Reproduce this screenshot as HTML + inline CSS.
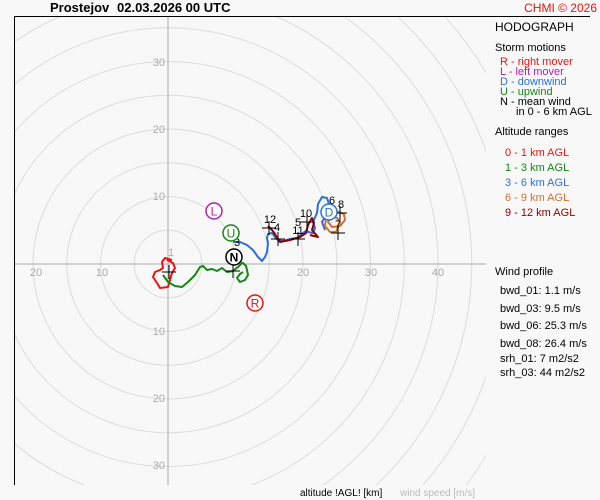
<!DOCTYPE html>
<html><head><meta charset="utf-8"><style>
html,body{margin:0;background:#f8f8f8;width:600px;height:500px;overflow:hidden;}
svg{display:block;font-family:"Liberation Sans",sans-serif;}
</style></head><body>
<svg width="600" height="500" viewBox="0 0 600 500" xmlns="http://www.w3.org/2000/svg">
<rect width="600" height="500" fill="#f8f8f8"/>
<defs><clipPath id="c"><rect x="14" y="16" width="472" height="469"/></clipPath></defs>
<g clip-path="url(#c)" fill="none" stroke="#dcdcdc" stroke-width="1">
<circle cx="168" cy="264" r="33.75"/><circle cx="168" cy="264" r="67.5"/><circle cx="168" cy="264" r="101.25"/>
<circle cx="168" cy="264" r="135"/><circle cx="168" cy="264" r="168.75"/><circle cx="168" cy="264" r="202.5"/>
<circle cx="168" cy="264" r="236.25"/><circle cx="168" cy="264" r="270"/><circle cx="168" cy="264" r="303.75"/>
<circle cx="168" cy="264" r="337.5"/><circle cx="168" cy="264" r="371.25"/><circle cx="168" cy="264" r="405"/>
<circle cx="168" cy="264" r="438.75"/><circle cx="168" cy="264" r="472.5"/>
</g>
<line x1="168" y1="16" x2="168" y2="485" stroke="#aaa"/>
<line x1="14" y1="264" x2="486" y2="264" stroke="#aaa"/>
<line x1="14.5" y1="16" x2="14.5" y2="485" stroke="#000"/>
<line x1="14" y1="16.5" x2="590" y2="16.5" stroke="#000"/>
<g font-size="11" fill="#aaa">
<text x="36" y="276" text-anchor="middle">20</text><text x="102" y="276" text-anchor="middle">10</text>
<text x="303" y="276" text-anchor="middle">20</text><text x="371" y="276" text-anchor="middle">30</text><text x="438" y="276" text-anchor="middle">40</text>
<text x="165" y="200" text-anchor="end">10</text><text x="165" y="133" text-anchor="end">20</text><text x="165" y="66" text-anchor="end">30</text>
<text x="165" y="335" text-anchor="end">10</text><text x="165" y="402" text-anchor="end">20</text><text x="165" y="469" text-anchor="end">30</text>
</g>
<g fill="none" stroke-width="2" stroke-linejoin="round">
<polyline stroke="#ee1111" points="167,260 173,263 175,268 172,273 170,280 168,287 160,288 157,283 153,277 155,272 160,270 163,268 162,262 165,258 172,260"/>
<polyline stroke="#118811" points="163,275 168,282 175,286 182,287 188,282 195,275 200,267 203,266 207,270 212,269 217,271 222,268 227,272 233,271 238,267 242,263 243,263 246,266 247,270 248,275 245,280 240,282 237,278 240,274 243,272"/>
<polyline stroke="#2a6fdd" points="233,242 240,242 247,245 253,250 258,257 262,261 265,257 267,252 268,243 267,238 268,234 272,233 275,237 278,240 283,241 290,239 297,238 303,233 307,230 308,232 313,233 315,228 313,222 317,213 318,204 322,197 327,198 330,207 327,214 322,222 325,230"/>
<polyline stroke="#8b0000" points="268,226 272,230 275,234 277,238 280,242 290,240 300,237 306,233 308,225 312,218 314,223 312,230 318,237 310,235"/>
<polyline stroke="#d07030" points="334,215 338,212 344,214 345,220 340,226 332,227 328,222 331,216 337,218 340,222 336,232 330,232 325,226 326,218"/>
</g>
<g stroke="#000" stroke-width="1">
<path d="M162,272h14M169,265v14M226,271h14M233,264v14M262,228h14M269,221v14M271,239h14M278,232v14M291,239h14M298,232v14M300,222h14M307,215v14M333,213h14M340,206v14M331,233h14M338,226v14"/>
</g>
<g font-size="11" fill="#000">
<text x="168" y="256" fill="#d99">1</text><text x="234" y="246">3</text>
<text x="270" y="223" text-anchor="middle">12</text><text x="277" y="231" text-anchor="middle">4</text>
<text x="298" y="226" text-anchor="middle">5</text><text x="298" y="234" text-anchor="middle">11</text>
<text x="306" y="217" text-anchor="middle">10</text><text x="332" y="204" text-anchor="middle">6</text>
<text x="341" y="208" text-anchor="middle">8</text><text x="338" y="228" text-anchor="middle">7</text>
</g>
<g font-size="12" text-anchor="middle" stroke-width="1.5">
<circle cx="214" cy="211" r="8" fill="#fff" stroke="#b020b0"/><text x="214" y="215.5" fill="#b020b0">L</text>
<circle cx="231" cy="233" r="8" fill="#fff" stroke="#118811"/><text x="231" y="237.5" fill="#118811">U</text>
<circle cx="234" cy="257" r="8" fill="#fff" stroke="#000"/><text x="234" y="261.5" fill="#000" font-weight="bold">N</text>
<circle cx="255" cy="303" r="8" fill="#fff" stroke="#ee1111"/><text x="255" y="307.5" fill="#ee1111">R</text>
<circle cx="329" cy="212" r="8" fill="#fff" stroke="#2a6fdd"/><text x="329" y="216.5" fill="#2a6fdd">D</text>
</g>
<text x="50" y="12" font-size="13" font-weight="bold">Prostejov</text>
<text x="117" y="12" font-size="13" font-weight="bold">02.03.2026 00 UTC</text>
<text x="597" y="12" font-size="12" fill="#ee1111" text-anchor="end">CHMI © 2026</text>
<g font-size="11">
<text x="495" y="31" font-size="12">HODOGRAPH</text>
<text x="495" y="51">Storm motions</text>
<text x="500" y="65" fill="#ee1111">R - right mover</text>
<text x="500" y="75" fill="#b020b0">L - left mover</text>
<text x="500" y="85" fill="#2a6fdd">D - downwind</text>
<text x="500" y="95" fill="#118811">U - upwind</text>
<text x="500" y="105">N - mean wind</text>
<text x="516" y="115">in 0 - 6 km AGL</text>
<text x="495" y="135">Altitude ranges</text>
<text x="505" y="156" fill="#ee1111">0 - 1 km AGL</text>
<text x="505" y="171" fill="#118811">1 - 3 km AGL</text>
<text x="505" y="186" fill="#2a6fdd">3 - 6 km AGL</text>
<text x="505" y="201" fill="#d07030">6 - 9 km AGL</text>
<text x="505" y="216" fill="#8b0000">9 - 12 km AGL</text>
<text x="495" y="275">Wind profile</text>
<text x="500" y="294">bwd_01: 1.1 m/s</text>
<text x="500" y="312">bwd_03: 9.5 m/s</text>
<text x="500" y="329">bwd_06: 25.3 m/s</text>
<text x="500" y="347">bwd_08: 26.4 m/s</text>
<text x="500" y="362">srh_01: 7 m2/s2</text>
<text x="500" y="376">srh_03: 44 m2/s2</text>
<text x="300" y="496" font-size="10">altitude !AGL! [km]</text>
<text x="400" y="496" font-size="10" fill="#bbb">wind speed [m/s]</text>
</g>
</svg>
</body></html>
